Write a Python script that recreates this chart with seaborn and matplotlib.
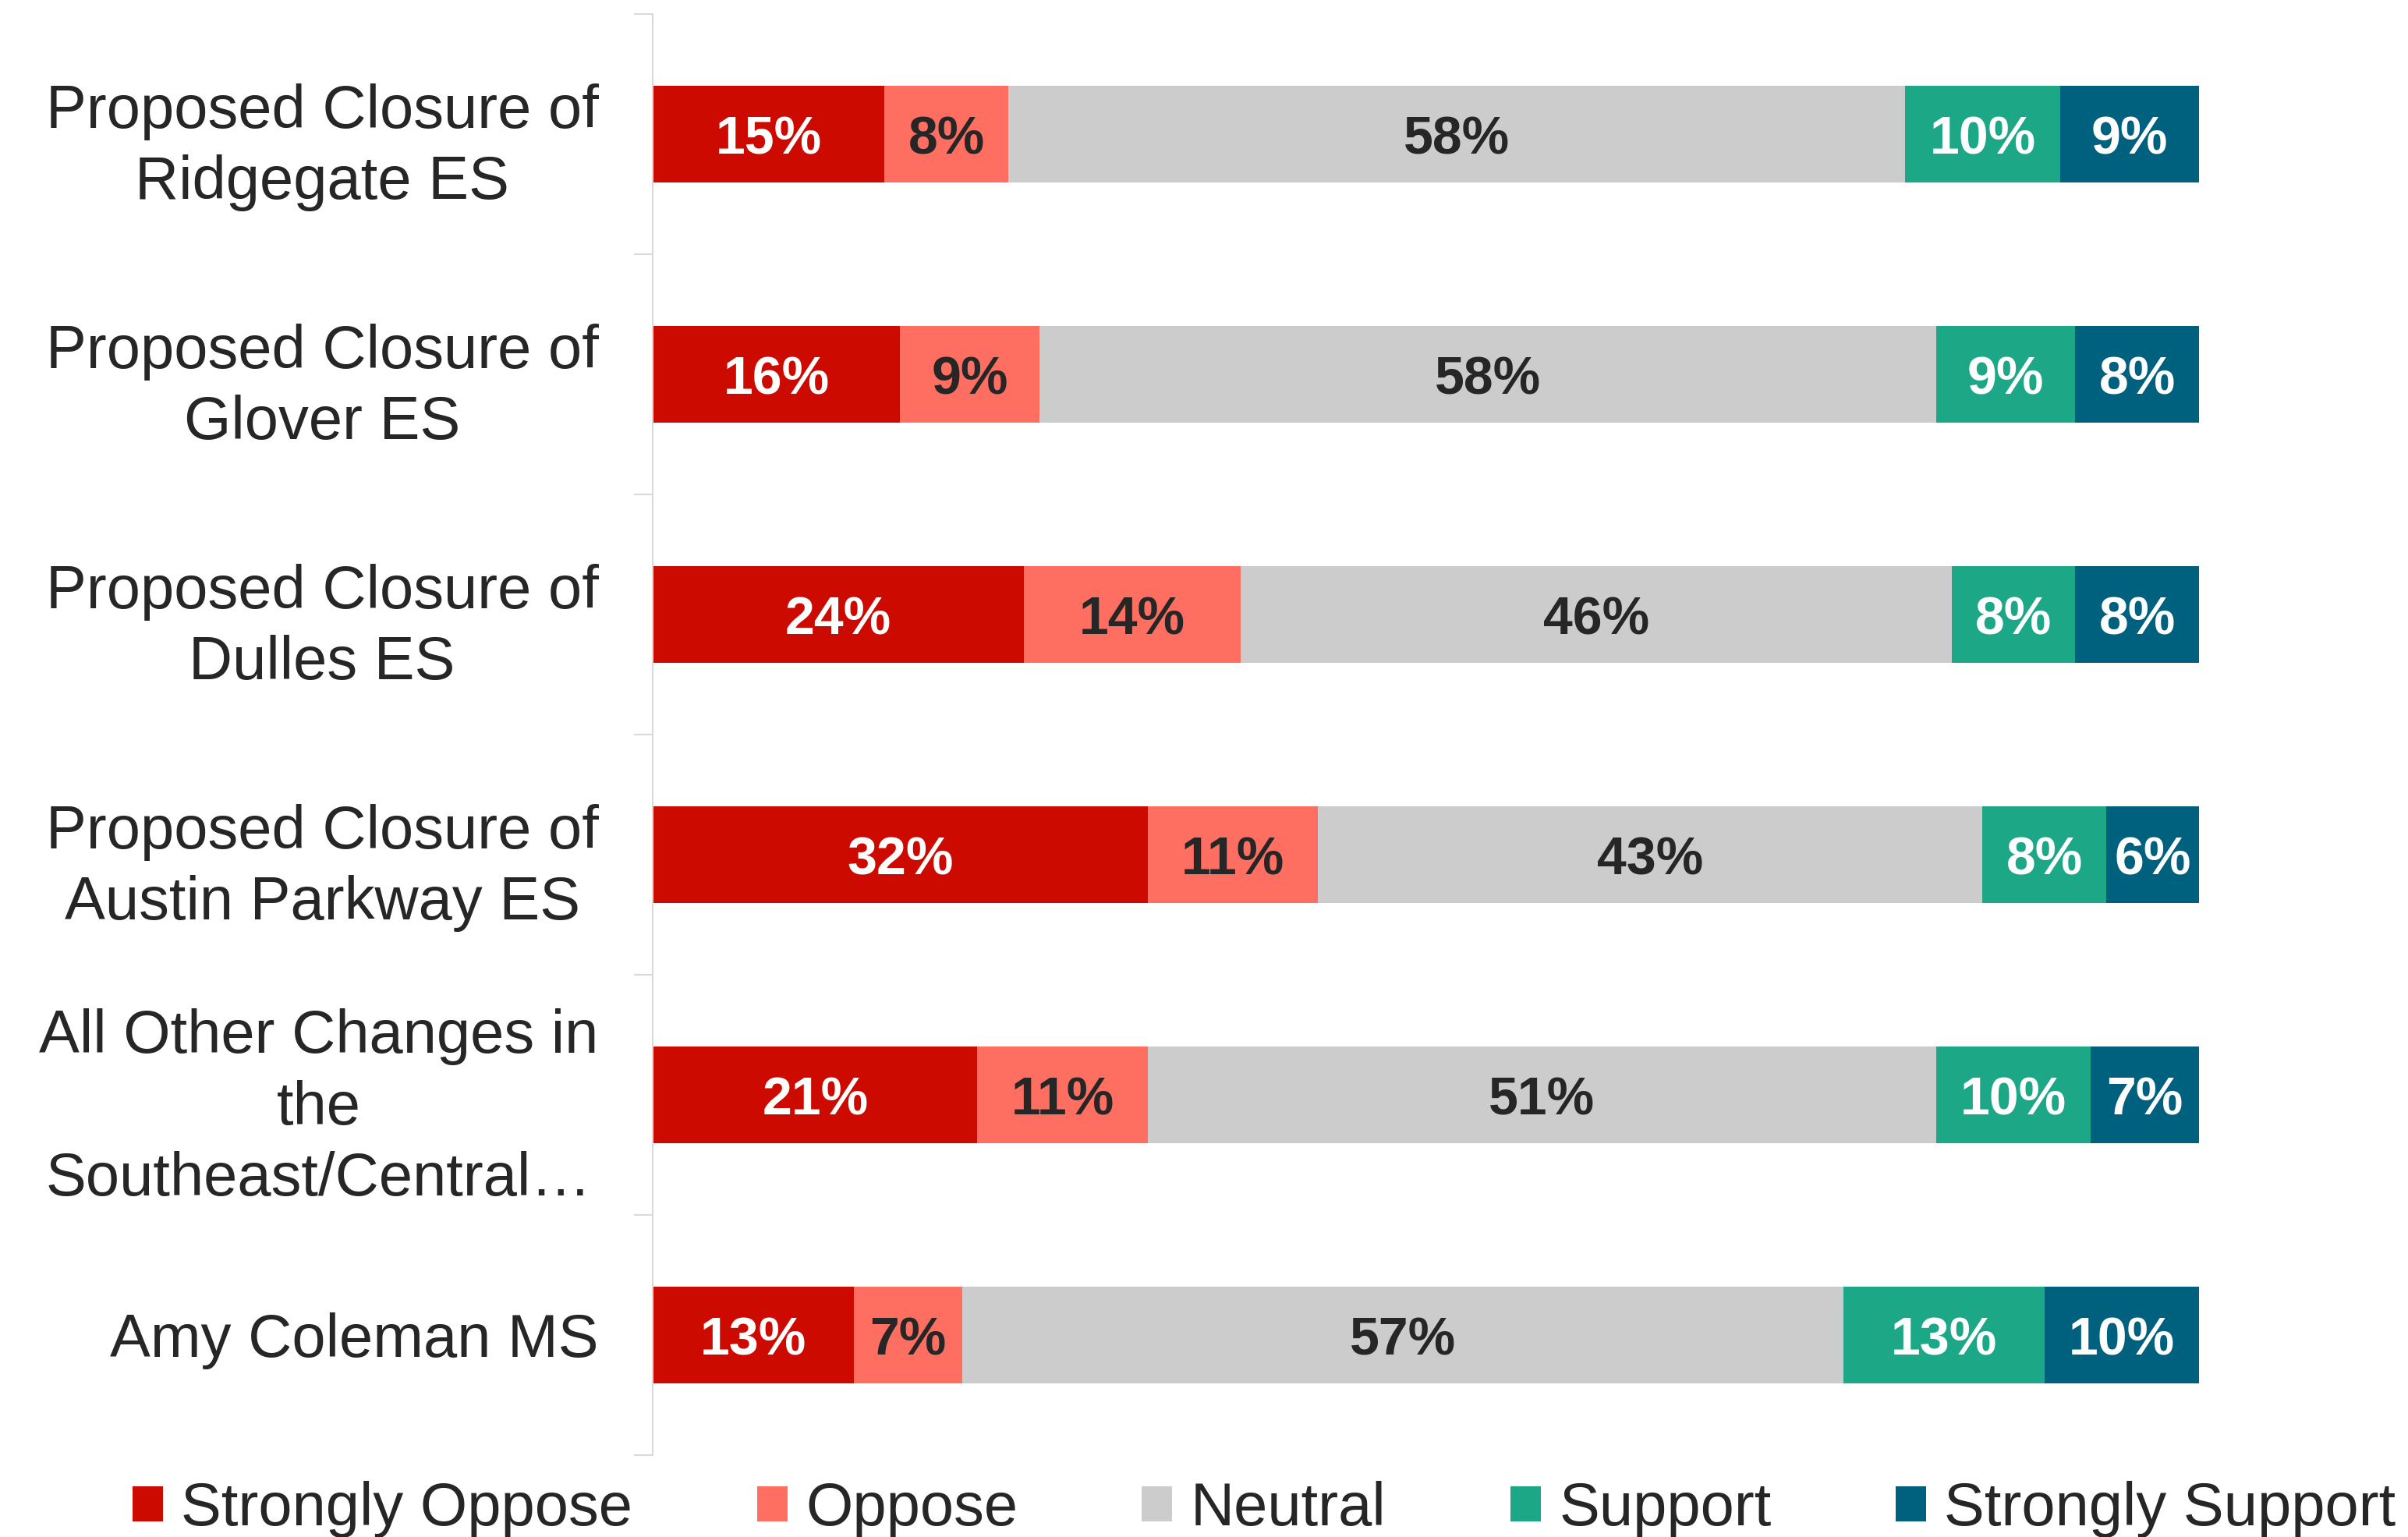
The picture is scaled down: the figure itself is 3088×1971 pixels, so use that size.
import matplotlib
matplotlib.use("Agg")
import matplotlib.pyplot as plt
from matplotlib.patches import Patch
from matplotlib.ticker import FixedLocator
import numpy as np
import pandas as pd
import seaborn as sns

categories = [
    "Proposed Closure of\nRidgegate ES",
    "Proposed Closure of\nGlover ES",
    "Proposed Closure of\nDulles ES",
    "Proposed Closure of\nAustin Parkway ES",
    "All Other Changes in\nthe\nSoutheast/Central\u2026",
    "Amy Coleman MS",
]
series_names = ["Strongly Oppose", "Oppose", "Neutral", "Support", "Strongly Support"]
strongly_oppose = [15, 16, 24, 32, 21, 13]
oppose = [8, 9, 14, 11, 11, 7]
neutral = [58, 58, 46, 43, 51, 57]
support = [10, 9, 8, 8, 10, 13]
strongly_support = [9, 8, 8, 6, 7, 10]

colors = ["#CC0A00", "#FF6F61", "#CCCCCC", "#1CA887", "#00617F"]
label_colors = ["white", "#262626", "#262626", "white", "white"]
text_color = "#262626"

sns.set_theme(style="white")
plt.rcParams["font.family"] = ["Liberation Sans", "DejaVu Sans"]

series = [strongly_oppose, oppose, neutral, support, strongly_support]
vals = np.array(series, dtype=float)
cum = np.cumsum(vals, axis=0)

fig = plt.figure(figsize=(30.88, 19.71), dpi=100)
ax = fig.add_axes([837 / 3088, 1 - 1866 / 1971, (2820 - 837) / 3088, (1866 - 18) / 1971])

# Stacked bars: draw cumulative totals from the back layer to the front
for k in range(len(series) - 1, -1, -1):
    df = pd.DataFrame({"category": categories, "value": cum[k]})
    sns.barplot(data=df, x="value", y="category", orient="h", color=colors[k],
                saturation=1, width=0.4, linewidth=0, ax=ax)

# Segment labels
for k in range(len(series)):
    for i in range(len(categories)):
        v = vals[k, i]
        center = cum[k, i] - v / 2
        ax.text(center, i, f"{int(round(v))}%", ha="center", va="center_baseline",
                fontsize=49, fontweight="bold", color=label_colors[k])

ax.set_xlim(0, 100)
ax.set_ylim(len(categories) - 0.5, -0.5)
ax.set_xlabel("")
ax.set_ylabel("")
ax.set_xticks([])
ax.set_yticks(range(len(categories)))
ax.set_yticklabels(categories, fontsize=56, color=text_color, multialignment="center",
                   linespacing=1.32)
ax.tick_params(axis="y", which="major", left=False, length=0, pad=50)
ax.yaxis.set_minor_locator(FixedLocator(np.arange(-0.5, len(categories), 1.0)))
ax.tick_params(axis="y", which="minor", left=True, length=17, width=1.5,
               color="#D9D9D9", direction="out")

for side in ["top", "right", "bottom"]:
    ax.spines[side].set_visible(False)
ax.spines["left"].set_color("#D9D9D9")
ax.spines["left"].set_linewidth(1.5)

handles = [Patch(facecolor=c, edgecolor="none", label=n) for c, n in zip(colors, series_names)]
fig.legend(handles=handles, loc="center", bbox_to_anchor=(0.525, 0.018), ncol=5,
           frameon=False, fontsize=56, handlelength=0.5, handleheight=0.5,
           handletextpad=0.3, columnspacing=2.05, borderpad=0, labelcolor=text_color)

fig.savefig("out.png", dpi=100)
